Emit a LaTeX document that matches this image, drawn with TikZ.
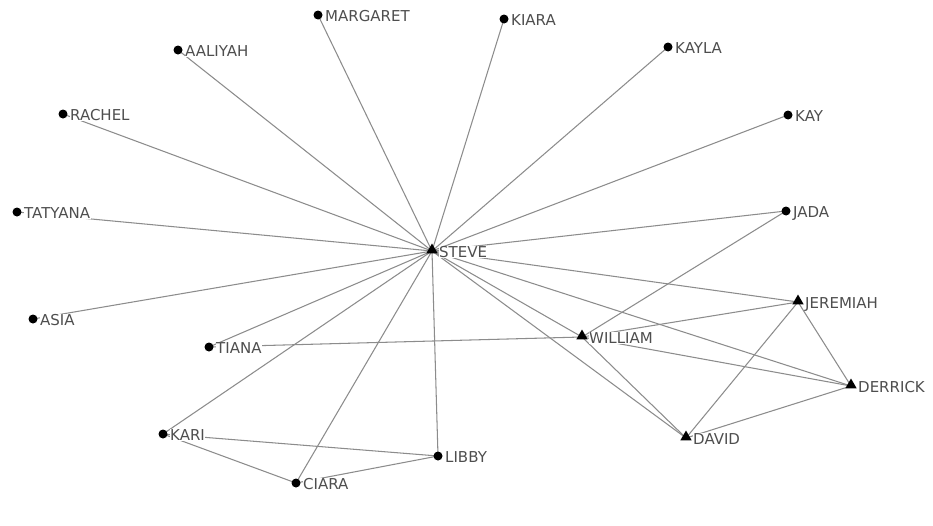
\documentclass[tikz,border=0pt]{standalone}
\usepackage{fontspec}
\setmainfont{DejaVu Sans}
\usetikzlibrary{shapes.geometric}
\definecolor{edgegray}{HTML}{8C8C8C}
\definecolor{textgray}{HTML}{4E4E4E}
\tikzset{
  edge/.style={draw=edgegray, line width=1.05pt},
  dotmark/.style={circle, fill=black, inner sep=0pt, minimum size=9pt},
  trimark/.style={regular polygon, regular polygon sides=3, fill=black, inner sep=0pt, minimum size=13pt},
  lab/.style={anchor=base west, fill=white, inner sep=0.6pt, text=textgray, font=\fontsize{15}{16}\selectfont, xshift=6.4pt, yshift=-6.5pt}
}
\begin{document}
\begin{tikzpicture}[x=1pt, y=-1pt]
\useasboundingbox (0,0) rectangle (933,525);
\fill[white] (0,0) rectangle (933,525);
% positions
\coordinate (margaret) at (318,15);
\coordinate (aaliyah) at (178,50);
\coordinate (kiara) at (504,19);
\coordinate (kayla) at (668,47);
\coordinate (rachel) at (63,114);
\coordinate (kay) at (788,115);
\coordinate (tatyana) at (17,212);
\coordinate (jada) at (786,211);
\coordinate (steve) at (432,251);
\coordinate (asia) at (33,319);
\coordinate (tiana) at (209,347);
\coordinate (william) at (582,337);
\coordinate (jeremiah) at (798,302);
\coordinate (derrick) at (851,386);
\coordinate (kari) at (163,434);
\coordinate (libby) at (438,456);
\coordinate (david) at (686,438);
\coordinate (ciara) at (296,483);
% edges
\foreach \n in {margaret,aaliyah,kiara,kayla,rachel,kay,tatyana,jada,asia,tiana,kari,ciara,libby,william,jeremiah,derrick,david}
  \draw[edge] (steve) -- (\n);
\draw[edge] (tiana) -- (william);
\draw[edge] (william) -- (jada);
\draw[edge] (william) -- (jeremiah);
\draw[edge] (william) -- (derrick);
\draw[edge] (william) -- (david);
\draw[edge] (jeremiah) -- (derrick);
\draw[edge] (jeremiah) -- (david);
\draw[edge] (derrick) -- (david);
\draw[edge] (kari) -- (libby);
\draw[edge] (kari) -- (ciara);
\draw[edge] (ciara) -- (libby);
% markers
\foreach \n in {margaret,aaliyah,kiara,kayla,rachel,kay,tatyana,jada,asia,tiana,kari,libby,ciara}
  \node[dotmark] (\n-m) at (\n) {};
\foreach \n in {steve,william,jeremiah,derrick,david}
  \node[trimark] (\n-m) at ([yshift=1pt]\n) {};
% labels
\node[lab] (margaret-l) at (margaret) {MARGARET};
\node[lab] (aaliyah-l) at (aaliyah) {AALIYAH};
\node[lab] (kiara-l) at (kiara) {KIARA};
\node[lab] (kayla-l) at (kayla) {KAYLA};
\node[lab] (rachel-l) at (rachel) {RACHEL};
\node[lab] (kay-l) at (kay) {KAY};
\node[lab] (tatyana-l) at (tatyana) {TATYANA};
\node[lab] (jada-l) at (jada) {JADA};
\node[lab] (steve-l) at (steve) {STEVE};
\node[lab] (asia-l) at (asia) {ASIA};
\node[lab] (tiana-l) at (tiana) {TIANA};
\node[lab] (william-l) at (william) {WILLIAM};
\node[lab] (jeremiah-l) at (jeremiah) {JEREMIAH};
\node[lab] (derrick-l) at (derrick) {DERRICK};
\node[lab] (kari-l) at (kari) {KARI};
\node[lab] (libby-l) at (libby) {LIBBY};
\node[lab] (david-l) at (david) {DAVID};
\node[lab] (ciara-l) at (ciara) {CIARA};
\end{tikzpicture}
\end{document}
